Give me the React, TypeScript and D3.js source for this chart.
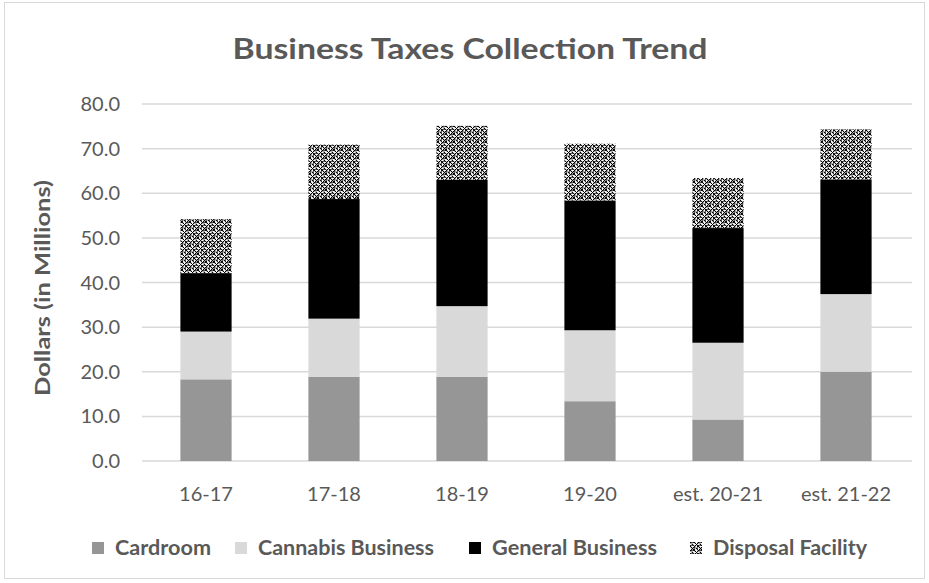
import React from "react";
import * as d3 from "d3";

const categories = ["16-17", "17-18", "18-19", "19-20", "est. 20-21", "est. 21-22"];
const seriesNames = ["Cardroom", "Cannabis Business", "General Business", "Disposal Facility"];
const cardroom = [18.3, 18.9, 18.9, 13.4, 9.3, 20.0];
const cannabis = [10.7, 13.0, 15.8, 15.9, 17.2, 17.4];
const general = [13.1, 26.8, 28.3, 29.1, 25.7, 25.7];
const disposal = [12.1, 12.2, 12.1, 12.7, 11.2, 11.2];
const yTicks = [0, 10, 20, 30, 40, 50, 60, 70, 80];

const W = 929;
const H = 583;
const fills = ["#969696", "#d9d9d9", "#000000", "url(#lattice)"];
const legendX = [92, 235, 469, 690];
const legendTextW = [96, 176, 165, 154];
const FONT = "Lato, 'Open Sans', sans-serif";
const TXT = "#595959";

export default function App() {
  const x = d3.scaleBand<string>().domain(categories).range([142, 910]).paddingInner(0.6).paddingOuter(0.3);
  const y = d3.scaleLinear().domain([0, 80]).range([461, 104]);
  const rows = categories.map((c, i) => ({
    cat: c,
    Cardroom: cardroom[i],
    "Cannabis Business": cannabis[i],
    "General Business": general[i],
    "Disposal Facility": disposal[i],
  }));
  const stacked = d3.stack<any>().keys(seriesNames)(rows);

  const patPixels: [number, number][] = [];
  for (let py = 0; py < 8; py++) {
    for (let px = 0; px < 8; px++) {
      const a = (px + py) % 8;
      const b = (px - py + 16) % 8;
      if (a === 0 || b === 0 || (a === 4 && b === 4)) patPixels.push([px, py]);
    }
  }

  return (
    <svg width={W} height={H} style={{ position: "absolute", left: 0, top: 0, background: "#fff" }}>
      <defs>
        <pattern id="lattice" width={8} height={8} patternUnits="userSpaceOnUse">
          <rect width={8} height={8} fill="#fff" />
          {patPixels.map(([px, py], k) => (
            <rect key={k} x={px} y={py} width={1.2} height={1.2} fill="#000" />
          ))}
          <circle cx={4} cy={4} r={3} fill="none" stroke="#000" strokeWidth={0.9} />
        </pattern>
      </defs>
      <rect x={4.5} y={2.5} width={920} height={576} fill="#fff" stroke="#d9d9d9" strokeWidth={1} />
      <text x={470} y={59} textAnchor="middle" fontFamily={FONT} fontWeight="bold" fontSize={28} fill={TXT}
        textLength={475} lengthAdjust="spacingAndGlyphs">
        Business Taxes Collection Trend
      </text>
      {yTicks.map((t) => (
        <g key={t}>
          <line x1={142} x2={912} y1={y(t)} y2={y(t)} stroke="#d9d9d9" strokeWidth={1.5} />
          <text x={120} y={y(t) + 7} textAnchor="end" fontFamily={FONT} fontSize={20} fill={TXT}>
            {t.toFixed(1)}
          </text>
        </g>
      ))}
      <text transform={`translate(50,${288}) rotate(-90)`} textAnchor="middle" fontFamily={FONT} fontWeight="bold"
        fontSize={20} fill={TXT} textLength={216} lengthAdjust="spacingAndGlyphs">
        Dollars (in Millions)
      </text>
      {stacked.map((s, si) => (
        <g key={s.key}>
          {s.map((d, i) => (
            <rect key={i} x={x(categories[i])} width={x.bandwidth()} y={y(d[1])} height={y(d[0]) - y(d[1])}
              fill={fills[si]} />
          ))}
        </g>
      ))}
      {categories.map((c) => (
        <text key={c} x={(x(c) as number) + x.bandwidth() / 2} y={501} textAnchor="middle" fontFamily={FONT}
          fontSize={20} fill={TXT}>
          {c}
        </text>
      ))}
      {seriesNames.map((n, i) => (
        <g key={n}>
          <rect x={legendX[i]} y={542} width={12} height={12} fill={fills[i]} />
          <text x={legendX[i] + 23} y={555} fontFamily={FONT} fontWeight="bold" fontSize={20} fill={TXT}
            textLength={legendTextW[i]} lengthAdjust="spacingAndGlyphs">
            {n}
          </text>
        </g>
      ))}
    </svg>
  );
}
